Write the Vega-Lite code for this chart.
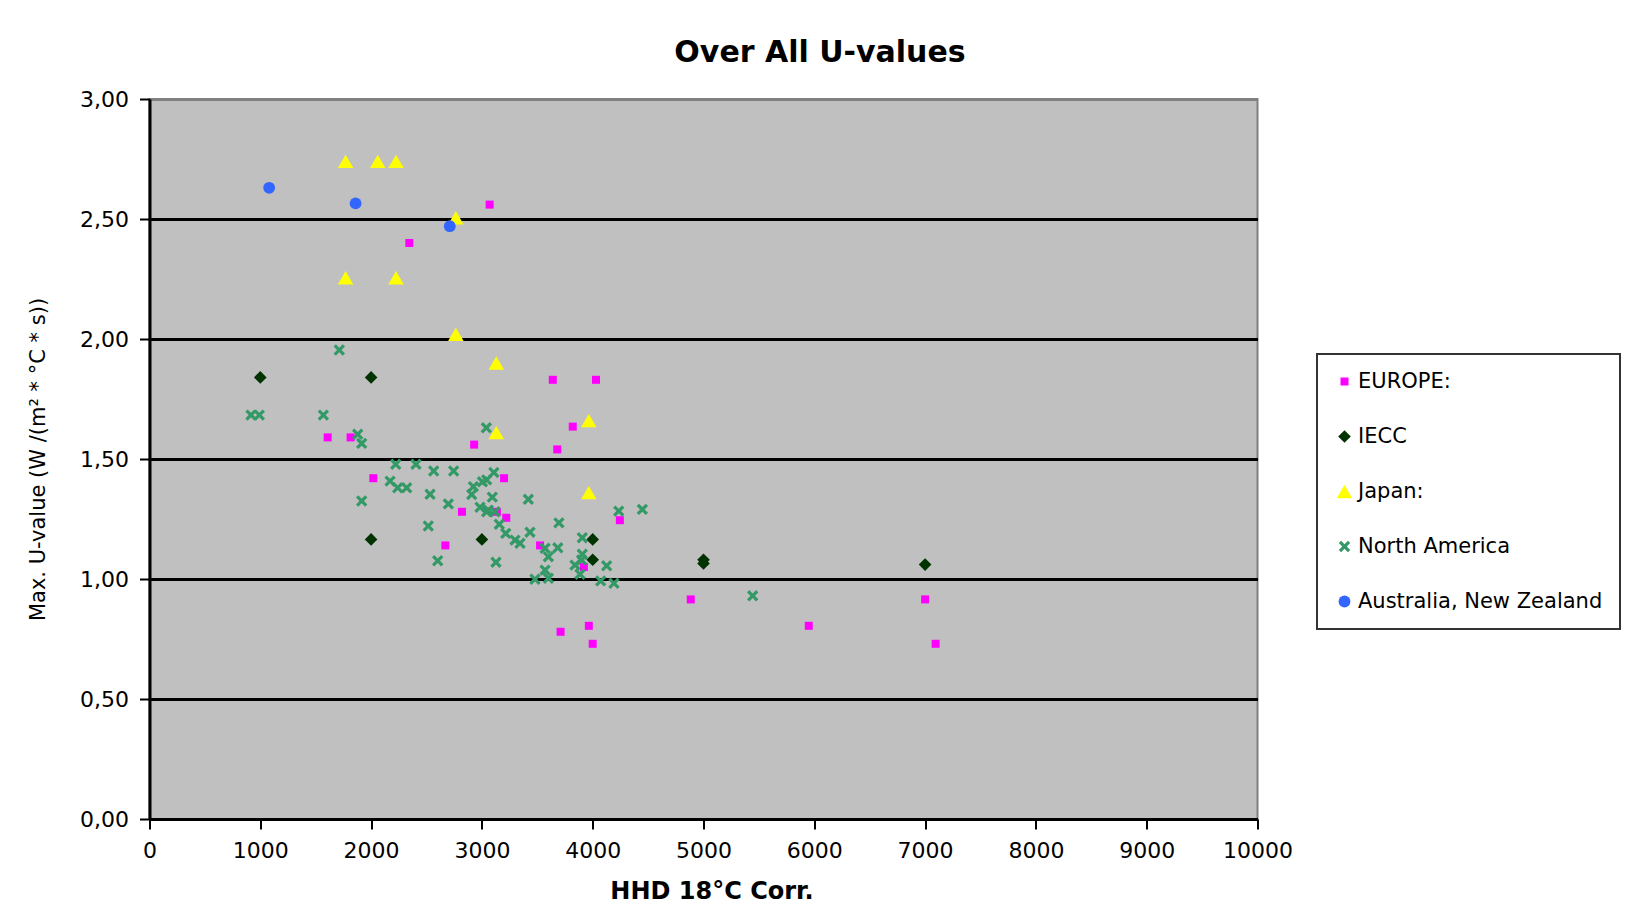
{
  "$schema": "https://vega.github.io/schema/vega-lite/v6.json",
  "width": 1108,
  "height": 720,
  "autosize": {"type": "none"},
  "padding": {"left": 149.5, "top": 99, "right": 372.5, "bottom": 101},
  "background": "white",
  "title": {
    "text": "Over All U-values",
    "font": "DejaVu Sans",
    "fontSize": 30,
    "fontWeight": "bold",
    "color": "black",
    "anchor": "middle",
    "dx": 116.5,
    "baseline": "alphabetic",
    "offset": -4
  },
  "config": {
    "view": {"fill": "#C0C0C0", "stroke": "#808080", "strokeWidth": 2},
    "font": "DejaVu Sans",
    "legend": {"strokeWidth": 2}
  },
  "data": {
    "values": [
      {"series": "EUROPE:", "hhd": 3070, "u": 2.56},
      {"series": "EUROPE:", "hhd": 2345, "u": 2.40},
      {"series": "EUROPE:", "hhd": 3640, "u": 1.83},
      {"series": "EUROPE:", "hhd": 4030, "u": 1.83},
      {"series": "EUROPE:", "hhd": 1608, "u": 1.59},
      {"series": "EUROPE:", "hhd": 1815, "u": 1.59},
      {"series": "EUROPE:", "hhd": 2930, "u": 1.56},
      {"series": "EUROPE:", "hhd": 3680, "u": 1.54},
      {"series": "EUROPE:", "hhd": 3820, "u": 1.635},
      {"series": "EUROPE:", "hhd": 2020, "u": 1.42},
      {"series": "EUROPE:", "hhd": 3200, "u": 1.42},
      {"series": "EUROPE:", "hhd": 2820, "u": 1.28},
      {"series": "EUROPE:", "hhd": 3135, "u": 1.28},
      {"series": "EUROPE:", "hhd": 3220, "u": 1.255},
      {"series": "EUROPE:", "hhd": 4245, "u": 1.245},
      {"series": "EUROPE:", "hhd": 2670, "u": 1.14},
      {"series": "EUROPE:", "hhd": 3525, "u": 1.14},
      {"series": "EUROPE:", "hhd": 3920, "u": 1.05},
      {"series": "EUROPE:", "hhd": 4885, "u": 0.915},
      {"series": "EUROPE:", "hhd": 3710, "u": 0.78},
      {"series": "EUROPE:", "hhd": 3965, "u": 0.805},
      {"series": "EUROPE:", "hhd": 4000, "u": 0.73},
      {"series": "EUROPE:", "hhd": 5950, "u": 0.805},
      {"series": "EUROPE:", "hhd": 7000, "u": 0.915},
      {"series": "EUROPE:", "hhd": 7095, "u": 0.73},
      {"series": "IECC", "hhd": 1000, "u": 1.84},
      {"series": "IECC", "hhd": 2000, "u": 1.84},
      {"series": "IECC", "hhd": 2000, "u": 1.165},
      {"series": "IECC", "hhd": 3000, "u": 1.165},
      {"series": "IECC", "hhd": 4000, "u": 1.165},
      {"series": "IECC", "hhd": 4000, "u": 1.08},
      {"series": "IECC", "hhd": 5000, "u": 1.08},
      {"series": "IECC", "hhd": 5000, "u": 1.065},
      {"series": "IECC", "hhd": 7000, "u": 1.06},
      {"series": "Japan:", "hhd": 1770, "u": 2.74},
      {"series": "Japan:", "hhd": 2060, "u": 2.74},
      {"series": "Japan:", "hhd": 2225, "u": 2.74},
      {"series": "Japan:", "hhd": 2765, "u": 2.505},
      {"series": "Japan:", "hhd": 1770, "u": 2.255},
      {"series": "Japan:", "hhd": 2225, "u": 2.255},
      {"series": "Japan:", "hhd": 2765, "u": 2.02},
      {"series": "Japan:", "hhd": 3130, "u": 1.90},
      {"series": "Japan:", "hhd": 3130, "u": 1.61},
      {"series": "Japan:", "hhd": 3965, "u": 1.66},
      {"series": "Japan:", "hhd": 3965, "u": 1.36},
      {"series": "North America", "hhd": 1713, "u": 1.954},
      {"series": "North America", "hhd": 916, "u": 1.683},
      {"series": "North America", "hhd": 991, "u": 1.683},
      {"series": "North America", "hhd": 1569, "u": 1.683},
      {"series": "North America", "hhd": 3040, "u": 1.63},
      {"series": "North America", "hhd": 1879, "u": 1.603},
      {"series": "North America", "hhd": 1915, "u": 1.565},
      {"series": "North America", "hhd": 2222, "u": 1.478},
      {"series": "North America", "hhd": 2405, "u": 1.478},
      {"series": "North America", "hhd": 2565, "u": 1.45},
      {"series": "North America", "hhd": 2745, "u": 1.45},
      {"series": "North America", "hhd": 3108, "u": 1.444},
      {"series": "North America", "hhd": 2171, "u": 1.408},
      {"series": "North America", "hhd": 3043, "u": 1.413},
      {"series": "North America", "hhd": 3005, "u": 1.405},
      {"series": "North America", "hhd": 2240, "u": 1.38},
      {"series": "North America", "hhd": 2321, "u": 1.38},
      {"series": "North America", "hhd": 2923, "u": 1.385},
      {"series": "North America", "hhd": 2532, "u": 1.353},
      {"series": "North America", "hhd": 2908, "u": 1.352},
      {"series": "North America", "hhd": 3094, "u": 1.341},
      {"series": "North America", "hhd": 1915, "u": 1.325},
      {"series": "North America", "hhd": 3419, "u": 1.332},
      {"series": "North America", "hhd": 2697, "u": 1.313},
      {"series": "North America", "hhd": 2983, "u": 1.299},
      {"series": "North America", "hhd": 3043, "u": 1.28},
      {"series": "North America", "hhd": 3058, "u": 1.287},
      {"series": "North America", "hhd": 3118, "u": 1.28},
      {"series": "North America", "hhd": 3695, "u": 1.234},
      {"series": "North America", "hhd": 3157, "u": 1.228},
      {"series": "North America", "hhd": 3434, "u": 1.195},
      {"series": "North America", "hhd": 3215, "u": 1.19},
      {"series": "North America", "hhd": 3299, "u": 1.162},
      {"series": "North America", "hhd": 3344, "u": 1.149},
      {"series": "North America", "hhd": 2516, "u": 1.221},
      {"series": "North America", "hhd": 3570, "u": 1.128},
      {"series": "North America", "hhd": 3600, "u": 1.093},
      {"series": "North America", "hhd": 3685, "u": 1.13},
      {"series": "North America", "hhd": 2601, "u": 1.076},
      {"series": "North America", "hhd": 3127, "u": 1.07},
      {"series": "North America", "hhd": 3570, "u": 1.037},
      {"series": "North America", "hhd": 3479, "u": 0.999},
      {"series": "North America", "hhd": 3600, "u": 1.003},
      {"series": "North America", "hhd": 4235, "u": 1.283},
      {"series": "North America", "hhd": 4448, "u": 1.29},
      {"series": "North America", "hhd": 3906, "u": 1.172},
      {"series": "North America", "hhd": 3906, "u": 1.103},
      {"series": "North America", "hhd": 3900, "u": 1.079},
      {"series": "North America", "hhd": 3840, "u": 1.058},
      {"series": "North America", "hhd": 3885, "u": 1.02},
      {"series": "North America", "hhd": 4126, "u": 1.055},
      {"series": "North America", "hhd": 4072, "u": 0.992},
      {"series": "North America", "hhd": 4192, "u": 0.982},
      {"series": "North America", "hhd": 5444, "u": 0.93},
      {"series": "Australia, New Zealand", "hhd": 1080, "u": 2.63},
      {"series": "Australia, New Zealand", "hhd": 1860, "u": 2.565},
      {"series": "Australia, New Zealand", "hhd": 2710, "u": 2.47}
    ]
  },
  "mark": {"type": "point", "filled": true, "opacity": 1, "strokeWidth": 0},
  "encoding": {
    "x": {
      "field": "hhd",
      "type": "quantitative",
      "scale": {"domain": [0, 10000], "nice": false, "zero": true},
      "axis": {
        "title": "HHD 18°C Corr.",
        "titleFont": "DejaVu Sans",
        "titleFontSize": 24,
        "titleFontWeight": "bold",
        "titleColor": "black",
        "titleX": 562,
        "titleY": 79,
        "titleBaseline": "alphabetic",
        "titleAlign": "center",
        "values": [0, 1000, 2000, 3000, 4000, 5000, 6000, 7000, 8000, 9000, 10000],
        "labelExpr": "format(datum.value, 'd')",
        "labelFont": "DejaVu Sans",
        "labelFontSize": 22,
        "labelColor": "black",
        "labelPadding": 11,
        "labelFlush": false,
        "labelOverlap": false,
        "tickColor": "black",
        "tickWidth": 2,
        "tickSize": 10,
        "domainColor": "black",
        "domainWidth": 3,
        "grid": false
      }
    },
    "y": {
      "field": "u",
      "type": "quantitative",
      "scale": {"domain": [0, 3], "nice": false},
      "axis": {
        "title": "Max. U-value (W /(m² * °C * s))",
        "titleFont": "DejaVu Sans",
        "titleFontSize": 21,
        "titleFontWeight": "normal",
        "titleColor": "black",
        "titleAngle": -90,
        "titleX": -105.5,
        "titleY": 360,
        "titleAlign": "center",
        "titleBaseline": "alphabetic",
        "values": [0, 0.5, 1, 1.5, 2, 2.5, 3],
        "labelExpr": "replace(format(datum.value, '.2f'), '.', ',')",
        "labelFont": "DejaVu Sans",
        "labelFontSize": 22,
        "labelColor": "black",
        "labelPadding": 11,
        "labelFlush": false,
        "labelOverlap": false,
        "tickColor": "black",
        "tickWidth": 2,
        "tickSize": 10,
        "domainColor": "black",
        "domainWidth": 3,
        "grid": true,
        "gridColor": {"condition": {"test": "datum.value >= 3 || datum.value <= 0", "value": "#808080"}, "value": "black"},
        "gridWidth": 3,
        "gridOpacity": 1
      }
    },
    "color": {
      "field": "series",
      "type": "nominal",
      "scale": {
        "domain": ["EUROPE:", "IECC", "Japan:", "North America", "Australia, New Zealand"],
        "range": ["#FF00FF", "#003300", "#FFFF00", "#339966", "#3366FF"]
      },
      "legend": {
        "title": null,
        "orient": "none",
        "legendX": 1167.5,
        "legendY": 255,
        "padding": 17,
        "rowPadding": 33,
        "labelFont": "DejaVu Sans",
        "labelFontSize": 21,
        "labelColor": "black",
        "labelOffset": 3,
        "labelLimit": 400,
        "strokeColor": "#333333",
        "fillColor": "white",
        "symbolStrokeWidth": 0,
        "symbolOpacity": 1
      }
    },
    "shape": {
      "field": "series",
      "type": "nominal",
      "scale": {
        "domain": ["EUROPE:", "IECC", "Japan:", "North America", "Australia, New Zealand"],
        "range": ["square", "diamond", "triangle-up", "M-1,-0.6L-0.6,-1L0,-0.4L0.6,-1L1,-0.6L0.4,0L1,0.6L0.6,1L0,0.4L-0.6,1L-1,0.6L-0.4,0Z", "circle"]
      }
    },
    "size": {
      "field": "series",
      "type": "nominal",
      "scale": {
        "type": "ordinal",
        "domain": ["EUROPE:", "IECC", "Japan:", "North America", "Australia, New Zealand"],
        "range": [64, 160, 240, 130, 140]
      }
    }
  }
}
